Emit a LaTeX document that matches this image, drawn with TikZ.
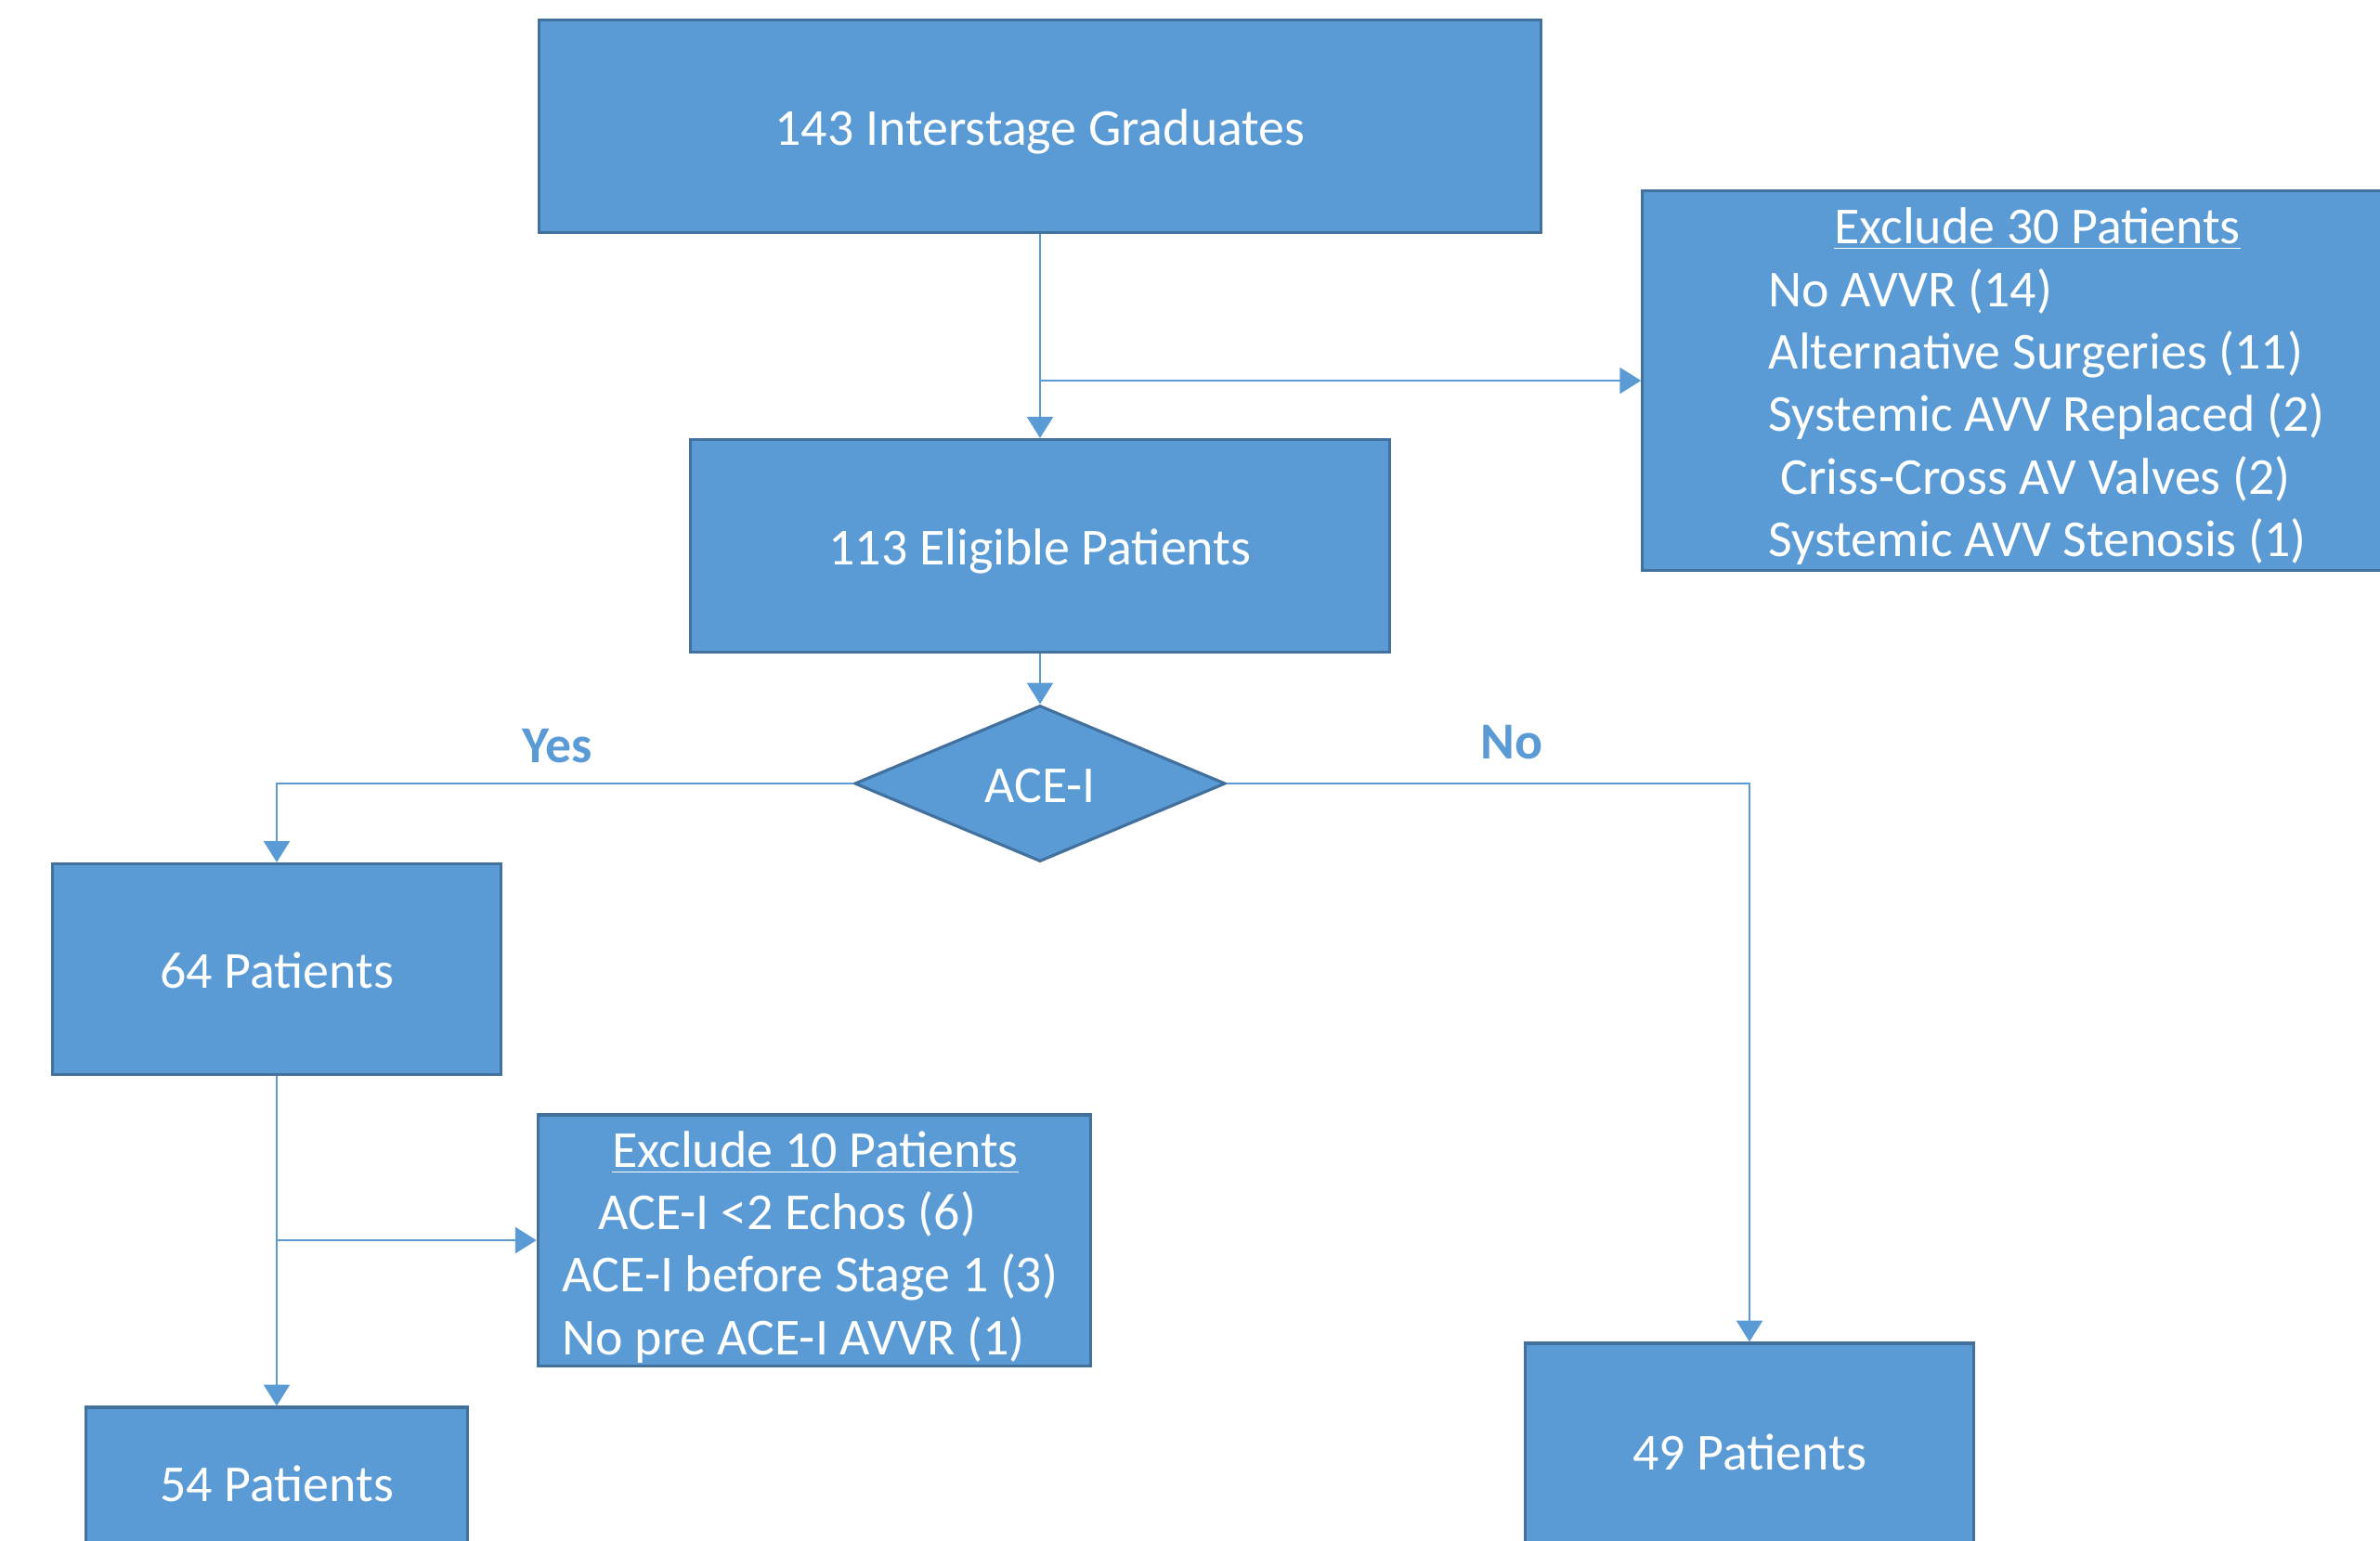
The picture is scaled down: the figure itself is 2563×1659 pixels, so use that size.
\documentclass[tikz,border=0pt]{standalone}
\usepackage{fontspec}
\setmainfont{Carlito}
\usetikzlibrary{shapes.geometric,arrows.meta}
\definecolor{boxblue}{HTML}{5B9BD5}
\definecolor{edgeblue}{HTML}{41719C}

\begin{document}
\begin{tikzpicture}[x=0.01cm, y=-0.01cm,
    box/.style={draw=edgeblue, line width=0.9pt, fill=boxblue, text=white,
        font=\fontsize{15.9}{19.1}\selectfont, inner sep=0pt,
        text height=13.6pt, text depth=2pt},
    decision/.style={box, diamond, aspect=2.375},
    txt/.style={text=white, font=\fontsize{15.9}{19.1}\selectfont, inner sep=0pt},
    answer/.style={text=boxblue, font=\fontsize{15.9}{19.1}\selectfont\bfseries},
    conn/.style={draw=boxblue, line width=0.6pt, -{Triangle[width=8pt,length=6.5pt]}}]

    % --- Page frame (picture is cut at the right and bottom) ---
    \useasboundingbox (0,0) rectangle (2563,1659);
    \clip (0,0) rectangle (2563,1659);

    % --- Main column ---
    \node[box, minimum width=10.78cm, minimum height=2.29cm] (grad) at (1120,136) {143 Interstage Graduates};
    \node[box, minimum width=7.52cm, minimum height=2.29cm] (elig) at (1120,588) {113 Eligible Patients};
    \node[decision, minimum width=3.99cm, minimum height=1.68cm] (ace) at (1120,844) {ACE-I};

    % --- First exclusion box ---
    \node[box, minimum width=8.50cm, minimum height=4.09cm] (ex30) at (2194,410) {};
    \node[txt, anchor=base] (ex30head) at (2194,262) {\underline{Exclude 30 Patients}};
    \node[txt, anchor=west, align=left] (ex30list) at (1904,449)
        {No AVVR (14)\\Alternative Surgeries (11)\\Systemic AVV Replaced (2)\\
         \hspace*{.23em}Criss-Cross AV Valves (2)\\Systemic AVV Stenosis (1)};

    % --- Yes branch ---
    \node[box, minimum width=4.82cm, minimum height=2.27cm] (p64) at (298,1044) {64 Patients};
    \node[box, minimum width=5.95cm, minimum height=2.70cm] (ex10) at (877,1336) {};
    \node[txt, anchor=base] (ex10head) at (878,1257) {\underline{Exclude 10 Patients}};
    \node[txt, anchor=west, align=left] (ex10list) at (605,1376)
        {\hspace*{11pt}ACE-I <2 Echos (6)\\ACE-I before Stage 1 (3)\\No pre ACE-I AVVR (1)};
    \node[box, minimum width=4.10cm, minimum height=1.62cm] (p54) at (298,1597) {54 Patients};

    % --- No branch ---
    \node[box, minimum width=4.82cm, minimum height=2.32cm] (p49) at (1884,1563) {49 Patients};

    % --- Branch labels ---
    \node[answer] (yes) at (600,804) {Yes};
    \node[answer] (no) at (1628,800) {No};

    % --- Connectors ---
    \draw[conn] (grad.south) -- (elig.north);
    \coordinate (split1) at (grad.south |- ex30.west);
    \draw[conn] (split1) -- (ex30.west);
    \draw[conn] (elig.south) -- (ace.north);
    \draw[conn] (ace.west) -| (p64.north);
    \draw[conn] (ace.east) -| (p49.north);
    \draw[conn] (p64.south) -- (p54.north);
    \coordinate (split2) at (p64.south |- ex10.west);
    \draw[conn] (split2) -- (ex10.west);

\end{tikzpicture}
\end{document}
